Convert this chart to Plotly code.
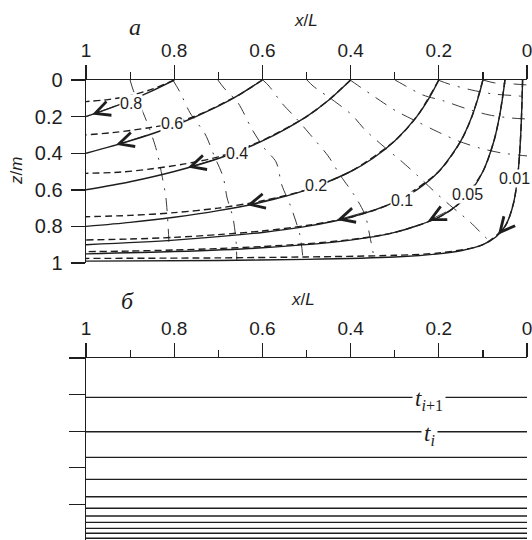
import numpy as np
import plotly.graph_objects as go

# ---------------- Panel a: streamlines ----------------
stream_labels = ["0.8", "0.6", "0.4", "0.2", "0.1", "0.05", "0.01"]

solid_x = [
    [0.8, 0.85, 0.9, 0.95, 1.0],
    [0.6, 0.65, 0.7, 0.8, 0.9, 1.0],
    [0.4, 0.45, 0.5, 0.6, 0.7, 0.8, 0.9, 1.0],
    [0.2, 0.22, 0.25, 0.3, 0.35, 0.4, 0.5, 0.6, 0.7, 0.8, 0.9, 1.0],
    [0.1, 0.11, 0.125, 0.15, 0.2, 0.25, 0.3, 0.4, 0.5, 0.6, 0.8, 1.0],
    [0.05, 0.055, 0.0625, 0.075, 0.1, 0.125, 0.15, 0.2, 0.3, 0.4, 0.6, 0.8, 1.0],
    [0.01, 0.011, 0.0125, 0.015, 0.02, 0.025, 0.03, 0.04, 0.05, 0.07, 0.1, 0.15,
     0.2, 0.3, 0.5, 0.7, 1.0],
]
solid_z = [
    [0.0, 0.059, 0.111, 0.158, 0.2],
    [0.0, 0.077, 0.143, 0.25, 0.333, 0.4],
    [0.0, 0.111, 0.2, 0.333, 0.429, 0.5, 0.556, 0.6],
    [0.0, 0.091, 0.2, 0.333, 0.429, 0.5, 0.6, 0.667, 0.714, 0.75, 0.778, 0.8],
    [0.0, 0.091, 0.2, 0.333, 0.5, 0.6, 0.667, 0.75, 0.8, 0.833, 0.875, 0.9],
    [0.0, 0.091, 0.2, 0.333, 0.5, 0.6, 0.667, 0.75, 0.833, 0.875, 0.917, 0.9375, 0.95],
    [0.0, 0.091, 0.2, 0.333, 0.5, 0.6, 0.667, 0.75, 0.8, 0.857, 0.9, 0.933,
     0.95, 0.967, 0.98, 0.986, 0.99],
]

dashed_x = [
    [0.8, 0.85, 0.9, 0.95, 1.0],
    [0.6, 0.65, 0.7, 0.75, 0.8, 0.86, 0.93, 1.0],
    [0.4, 0.45, 0.5, 0.6, 0.7, 0.78, 0.85, 0.92, 1.0],
    [0.2, 0.25, 0.3, 0.4, 0.5, 0.6, 0.7, 0.8, 0.9, 1.0],
    [0.1, 0.125, 0.15, 0.2, 0.3, 0.4, 0.5, 0.6, 0.7, 0.8, 0.9, 1.0],
    [0.05, 0.0625, 0.075, 0.1, 0.15, 0.2, 0.3, 0.4, 0.5, 0.6, 0.7, 0.8, 0.9, 1.0],
    [0.01, 0.0125, 0.015, 0.02, 0.03, 0.05, 0.1, 0.2, 0.3, 0.5, 0.7, 1.0],
]
dashed_z = [
    [0.0, 0.05, 0.085, 0.107, 0.118],
    [0.0, 0.077, 0.14, 0.195, 0.235, 0.262, 0.285, 0.30],
    [0.0, 0.11, 0.2, 0.33, 0.42, 0.46, 0.485, 0.503, 0.51],
    [0.0, 0.2, 0.333, 0.5, 0.6, 0.66, 0.7, 0.725, 0.74, 0.747],
    [0.0, 0.2, 0.333, 0.5, 0.667, 0.75, 0.795, 0.825, 0.845, 0.86, 0.869, 0.874],
    [0.0, 0.2, 0.333, 0.5, 0.667, 0.75, 0.833, 0.872, 0.895, 0.91, 0.921, 0.929, 0.935, 0.938],
    [0.0, 0.2, 0.333, 0.5, 0.667, 0.8, 0.9, 0.945, 0.958, 0.967, 0.972, 0.975],
]

# dash-dot lines starting at the surface ticks
dashdot_x = [
    [0.900, 0.893, 0.873, 0.855, 0.839, 0.828, 0.819, 0.814, 0.810],
    [0.803, 0.787, 0.764, 0.730, 0.710, 0.689, 0.680, 0.667, 0.660, 0.658],
    [0.701, 0.687, 0.655, 0.624, 0.596, 0.569, 0.556, 0.537, 0.515, 0.508],
    [0.599, 0.585, 0.556, 0.524, 0.485, 0.451, 0.424, 0.392, 0.367, 0.356, 0.347],
    [0.499, 0.485, 0.431, 0.397, 0.367, 0.329, 0.288, 0.247, 0.209, 0.170, 0.129, 0.0975, 0.084],
    [0.401, 0.385, 0.345, 0.297, 0.247, 0.206, 0.156, 0.107, 0.057, 0.0],
    [0.299, 0.283, 0.236, 0.188, 0.136, 0.086, 0.034, 0.0],
    [0.202, 0.177, 0.125, 0.075, 0.020, 0.0],
    [0.100, 0.073, 0.029, 0.0],
]
dashdot_z = [
    [0.0, 0.055, 0.164, 0.273, 0.393, 0.519, 0.639, 0.792, 0.985],
    [0.0, 0.066, 0.18, 0.295, 0.41, 0.53, 0.645, 0.749, 0.874, 0.984],
    [0.0, 0.044, 0.126, 0.268, 0.372, 0.448, 0.574, 0.683, 0.847, 0.978],
    [0.0, 0.033, 0.126, 0.208, 0.317, 0.415, 0.519, 0.628, 0.738, 0.858, 0.968],
    [0.0, 0.033, 0.126, 0.191, 0.273, 0.355, 0.437, 0.525, 0.612, 0.694, 0.776, 0.852, 0.882],
    [0.0, 0.027, 0.093, 0.169, 0.23, 0.279, 0.333, 0.372, 0.399, 0.415],
    [0.0, 0.022, 0.082, 0.115, 0.158, 0.191, 0.208, 0.213],
    [0.0, 0.022, 0.055, 0.077, 0.087, 0.093],
    [0.0, 0.016, 0.022, 0.027],
]

# arrow tips along solid streamlines (x/L of tip, x/L of tail)
arrow_tip_x = [0.986, 0.932, 0.769, 0.635, 0.431, 0.2245, 0.0658]
arrow_tail_x = [0.93, 0.86, 0.70, 0.56, 0.36, 0.18, 0.052]

# ---------------- Panel b: isochrones ----------------
iso_depths = [0.215, 0.403, 0.543, 0.663, 0.758, 0.821, 0.863, 0.898, 0.931, 0.958, 0.985]
iso_names = ["<i>t</i><sub><i>i</i>+1</sub>", "<i>t</i><sub><i>i</i></sub>"]

x_ticks = [1, 0.8, 0.6, 0.4, 0.2, 0]
x_ticktext = ["1", "0.8", "0.6", "0.4", "0.2", "0"]
z_ticks = [0, 0.2, 0.4, 0.6, 0.8, 1]
z_ticktext = ["0", "0.2", "0.4", "0.6", "0.8", "1"]

INK = "#1e1e1e"
fig = go.Figure()

for xs, zs in zip(dashdot_x, dashdot_z):
    fig.add_trace(go.Scatter(x=xs, y=zs, mode="lines", xaxis="x", yaxis="y",
                             line=dict(color="#3a3a3a", width=1, dash="13px,8px,2px,8px",
                                       shape="spline", smoothing=0.8),
                             hoverinfo="skip", showlegend=False))
for xs, zs in zip(dashed_x, dashed_z):
    fig.add_trace(go.Scatter(x=xs, y=zs, mode="lines", xaxis="x", yaxis="y",
                             line=dict(color=INK, width=1.4, dash="7px,4px",
                                       shape="spline", smoothing=0.8),
                             hoverinfo="skip", showlegend=False))
for xs, zs in zip(solid_x, solid_z):
    fig.add_trace(go.Scatter(x=xs, y=zs, mode="lines", xaxis="x", yaxis="y",
                             line=dict(color=INK, width=1.4, shape="spline", smoothing=0.8),
                             hoverinfo="skip", showlegend=False))

# isochrones in panel b
bx, bz = [], []
for d in iso_depths:
    bx += [1, 0, None]
    bz += [d, d, None]
fig.add_trace(go.Scatter(x=bx, y=bz, mode="lines", xaxis="x2", yaxis="y2",
                         line=dict(color=INK, width=1.4), hoverinfo="skip", showlegend=False))

annotations = []
# streamline labels
label_pos = [(0.898, 0.126), (0.805, 0.240), (0.658, 0.399), (0.478, 0.579),
             (0.283, 0.656), (0.134, 0.628), (0.029, 0.536)]
for txt, (lx, lz) in zip(stream_labels, label_pos):
    annotations.append(dict(x=lx, y=lz, xref="x", yref="y", text=txt, showarrow=False,
                            xanchor="center", yanchor="middle",
                            font=dict(family="Liberation Sans", size=16, color=INK),
                            bgcolor="white", borderpad=0))
# arrows
for xs, zs, tip, tail in zip(solid_x, solid_z, arrow_tip_x, arrow_tail_x):
    zt = float(np.interp(tip, xs, zs))
    za = float(np.interp(tail, xs, zs))
    annotations.append(dict(x=tip, y=zt, ax=tail, ay=za, xref="x", yref="y",
                            axref="x", ayref="y", text="", showarrow=True,
                            arrowhead=5, arrowsize=3.2, arrowwidth=0.9, arrowcolor=INK))
# isochrone labels
for txt, d, lx in zip(iso_names, iso_depths, [0.222, 0.222]):
    annotations.append(dict(x=lx, y=d, xref="x2", yref="y2", text=txt, showarrow=False,
                            xanchor="center", yanchor="middle",
                            font=dict(family="Liberation Serif", size=23, color=INK),
                            bgcolor="white", borderpad=2, yshift=-3))
# panel letters and axis titles
def px2paper(px, py):
    return (px - 86) / 441.0, 1 - py / 540.0

for txt, (px, py), fam, size in [
    ("<i>а</i>", (135, 27), "Liberation Serif", 24),
    ("<i>б</i>", (127, 301), "Liberation Serif", 24),
    ("<i>x</i>/<i>L</i>", (306, 21), "Liberation Sans", 17),
    ("<i>x</i>/<i>L</i>", (303, 299), "Liberation Sans", 17),
]:
    ax_, ay_ = px2paper(px, py)
    annotations.append(dict(x=ax_, y=ay_, xref="paper", yref="paper", text=txt,
                            xanchor="center", yanchor="middle",
                            showarrow=False, font=dict(family=fam, size=size, color=INK)))
zx, zy = px2paper(16, 171)
annotations.append(dict(x=zx, y=zy, xref="paper", yref="paper", text="<i>z</i>/<i>m</i>",
                        xanchor="center", yanchor="middle",
                        showarrow=False, textangle=-90,
                        font=dict(family="Liberation Sans", size=17, color=INK)))

xaxis_common = dict(range=[1, 0], side="top", showline=True, linecolor=INK, linewidth=1.4,
                    ticks="outside", ticklen=14, tickwidth=1.4, tickcolor=INK,
                    tickvals=x_ticks, ticktext=x_ticktext, showgrid=False, zeroline=False,
                    tickfont=dict(family="Liberation Sans", size=19, color=INK),
                    ticklabeloverflow="allow", automargin=False, ticklabelstandoff=0,
                    minor=dict(tickvals=[0.9, 0.7, 0.5, 0.3, 0.1], ticks="outside",
                               ticklen=7, tickwidth=1.2, tickcolor=INK, showgrid=False),
                    fixedrange=True)

fig.update_layout(
    width=532, height=540,
    margin=dict(l=86, r=5, t=0, b=0, autoexpand=False),
    paper_bgcolor="white", plot_bgcolor="white",
    showlegend=False,
    xaxis=dict(**xaxis_common, domain=[0, 1], anchor="y"),
    yaxis=dict(range=[1, 0], domain=[1 - 263 / 540, 1 - 80 / 540], anchor="x",
               showline=True, linecolor=INK, linewidth=1.4, ticks="outside", ticklen=14,
               tickwidth=1.4, tickcolor=INK, tickvals=z_ticks, ticktext=z_ticktext,
               showgrid=False, zeroline=False, automargin=False, ticklabelstandoff=4,
               ticklabeloverflow="allow", fixedrange=True,
               tickfont=dict(family="Liberation Sans", size=20, color=INK)),
    xaxis2=dict(**xaxis_common, domain=[0, 1], anchor="y2"),
    yaxis2=dict(range=[(540 - 358) / 183, 0], domain=[0, 1 - 358 / 540], anchor="x2",
                showline=True, linecolor=INK, linewidth=1.4, ticks="outside", ticklen=16,
                tickwidth=1.4, tickcolor=INK, tickvals=[0, 0.2, 0.4, 0.6, 0.8],
                showticklabels=False, showgrid=False, zeroline=False, automargin=False,
                fixedrange=True),
    annotations=annotations,
)

fig.write_html("out.html", config={"displayModeBar": False, "staticPlot": True},
               post_script="document.body.style.margin='0px';")
